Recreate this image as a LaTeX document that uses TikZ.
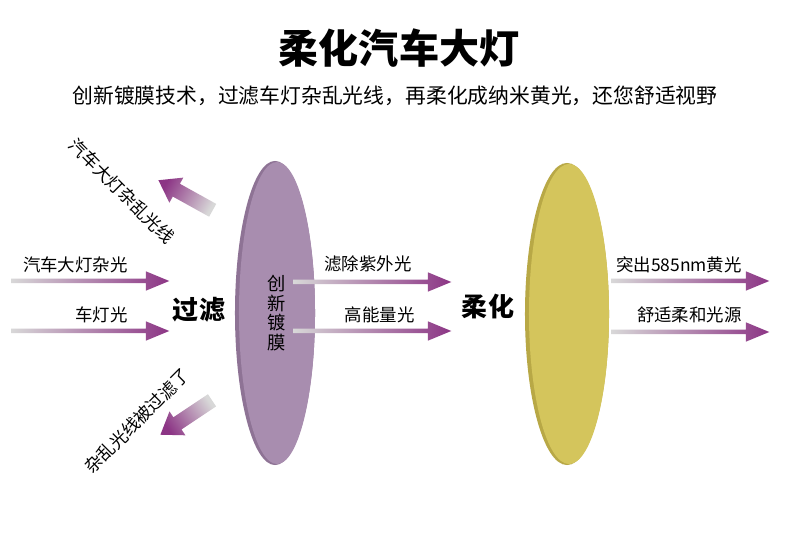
\documentclass[tikz,border=0pt]{standalone}
\usepackage{fontspec}
\setmainfont{Noto Sans CJK SC}
\usetikzlibrary{shapes.arrows,shapes.geometric,positioning}

\definecolor{raypurple}{HTML}{8C3585}
\definecolor{raygrey}{HTML}{D8D8D8}
\definecolor{filmpurple}{HTML}{A88DAF}
\definecolor{filmedge}{HTML}{8E7395}
\definecolor{softyellow}{HTML}{D4C55C}
\definecolor{softedge}{HTML}{B8A846}

\begin{document}
\begin{tikzpicture}[x=0.025cm, y=0.025cm,
  ray/.style={single arrow, anchor=tip, minimum height=3.95cm, inner xsep=0pt, inner ysep=1.4pt,
    single arrow head extend=5.3pt, single arrow tip angle=45, single arrow head indent=0pt,
    left color=raygrey, right color=raypurple},
  stray/.style={single arrow, anchor=tip, minimum height=1.55cm, inner xsep=0pt, inner ysep=5pt,
    single arrow head extend=5pt, single arrow tip angle=70, single arrow head indent=0pt,
    top color=raypurple, bottom color=raygrey, shading angle=#1, rotate=#1+90},
  lbl/.style={font=\fontsize{12.4}{14}\selectfont, inner sep=0pt},
  tag/.style={font=\fontsize{18.5}{20}\selectfont\bfseries, inner sep=0pt},
  lens/.style={ellipse, inner sep=0pt}
]
\useasboundingbox[fill=white] (0,0) rectangle (790,-544);

% heading
\node[font=\fontsize{28.5}{30}\selectfont\bfseries] (title) at (399,-48) {柔化汽车大灯};
\node[font=\fontsize{14.8}{17}\selectfont] (subtitle) at (395,-96)
  {创新镀膜技术，过滤车灯杂乱光线，再柔化成纳米黄光，还您舒适视野};

% the two lenses
\node[lens, fill=filmedge, minimum width=2cm, minimum height=7.6cm] (filmrim) at (275,-313) {};
\node[lens, fill=filmpurple, minimum width=1.9cm, minimum height=7.55cm,
  align=center, font=\fontsize{13}{14}\selectfont] (film) at (277,-313) {创\\新\\镀\\膜};
\node[lens, fill=softedge, minimum width=2.1cm, minimum height=7.55cm] (softrim) at (567,-314) {};
\node[lens, fill=softyellow, minimum width=2cm, minimum height=7.5cm] (soft) at (569,-314) {};

\node[tag] (filter) at (199,-310) {过滤};
\node[tag] (soften) at (488,-307) {柔化};

% incoming light
\node[ray] (in1) at (170,-281) {};
\node[ray] (in2) at (170,-331) {};
\node[lbl, anchor=east] (in1lbl) at (128,-265) {汽车大灯杂光};
\node[lbl, anchor=east] (in2lbl) at (128,-315) {车灯光};

% stray light thrown back
\node[stray=61] (back1) at (158,-180) {};
\node[stray=123.7] (back2) at (160,-435) {};
\node[lbl, rotate=-45] (back1lbl) at (122,-191) {汽车大灯杂乱光线};
\node[lbl, rotate=45] (back2lbl) at (137,-421) {杂乱光线被过滤了};

% after the film
\node[ray] (mid1) at (452,-282) {};
\node[ray] (mid2) at (452,-331) {};
\node[lbl, anchor=east] (mid1lbl) at (412,-264) {滤除紫外光};
\node[lbl, anchor=east] (mid2lbl) at (415,-315) {高能量光};

% after the yellow lens
\node[ray] (out1) at (770,-281) {};
\node[ray] (out2) at (770,-332) {};
\node[lbl, anchor=east] (out1lbl) at (742,-265) {突出585nm黄光};
\node[lbl, anchor=east] (out2lbl) at (742,-315) {舒适柔和光源};
\end{tikzpicture}
\end{document}
